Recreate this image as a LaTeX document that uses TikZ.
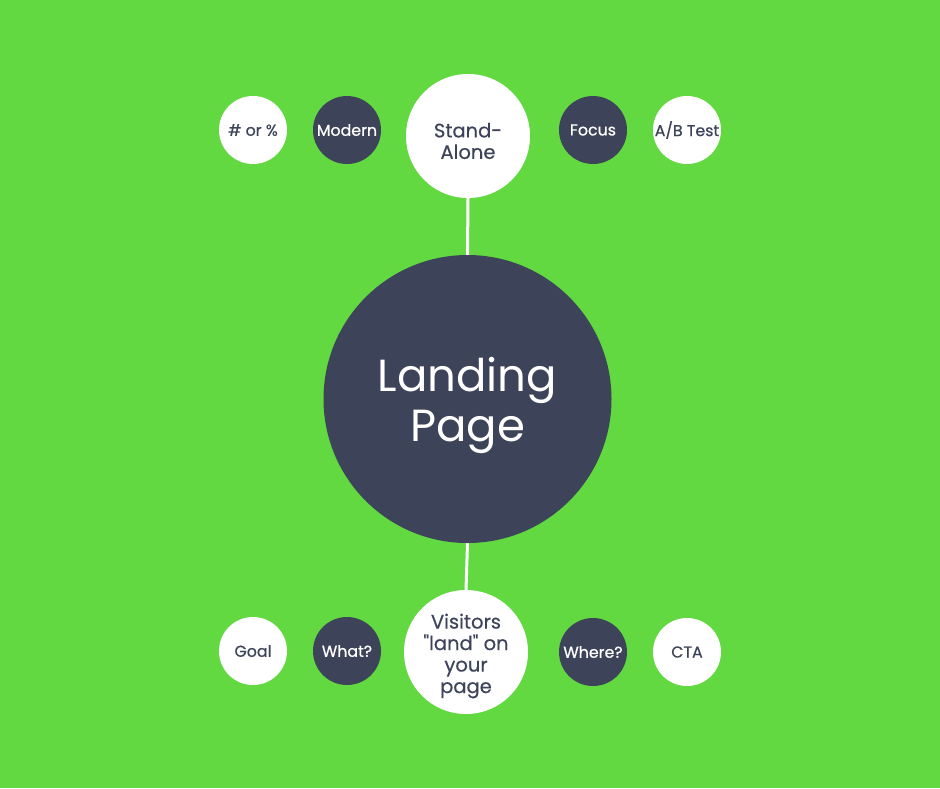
\documentclass[tikz,border=0pt]{standalone}
\usepackage{fontspec}
\setmainfont{Poppins}
\newfontfamily\medfont{Poppins}[FakeBold=0.7]
\newfontfamily\semifont{Poppins}[FakeBold=0.35]
\definecolor{bggreen}{HTML}{62D841}
\definecolor{navy}{HTML}{3D4459}
\tikzset{
  bubble/.style={circle, inner sep=0pt, align=center, font=\medfont\fontsize{15.8}{17}\selectfont},
  lightbub/.style={bubble, fill=white, text=navy, minimum size=68pt},
  darkbub/.style={bubble, fill=navy, text=white, minimum size=68pt},
  midbub/.style={circle, inner sep=0pt, align=center, fill=white, text=navy, minimum size=124pt, font=\semifont\fontsize{19.5}{21.5}\selectfont},
  link/.style={white, line width=3pt}
}
\begin{document}
\begin{tikzpicture}[x=1pt,y=-1pt]
\fill[bggreen] (0,0) rectangle (940,788);
\useasboundingbox (0,0) rectangle (940,788);
\node[circle, fill=navy, minimum size=288pt, inner sep=0pt] (main) at (467.5,399) {};
\node[text=white, align=center, inner sep=0pt, font=\fontsize{45}{50}\selectfont] (maintxt) at (467.5,405) {Landing\\Page};
\node[midbub] (top) at (468,136) {};
\node[text=navy, align=center, inner sep=0pt, font=\semifont\fontsize{19.5}{21.5}\selectfont] (toptxt) at (468,141) {Stand-\\Alone};
\node[midbub] (bot) at (466,652) {};
\node[text=navy, align=center, inner sep=0pt, font=\semifont\fontsize{19.5}{21.5}\selectfont] (bottxt) at (466,656) {Visitors\\\symbol{34}land\symbol{34} on\\your\\page};
\draw[link] (top.south) -- (main.north);
\draw[link] (main.south) -- (bot.north);
\node[lightbub] (pct) at (253,130) {\# or \%};
\node[darkbub] (modern) at (347,130) {Modern};
\node[darkbub] (focus) at (593,130) {Focus};
\node[lightbub] (ab) at (687,130) {A/B Test};
\node[lightbub] (goal) at (253,651) {Goal};
\node[darkbub] (what) at (347,651) {What?};
\node[darkbub] (where) at (593,652) {Where?};
\node[lightbub] (cta) at (687,652) {CTA};
\end{tikzpicture}
\end{document}
